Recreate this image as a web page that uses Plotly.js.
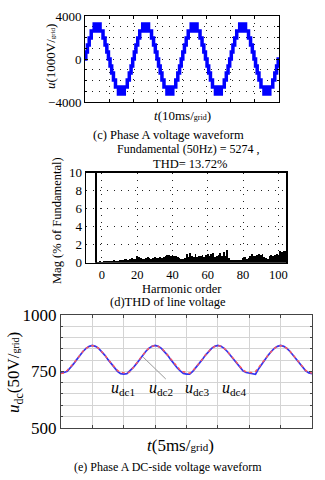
<!DOCTYPE html>
<html><head><meta charset="utf-8">
<script src="https://cdn.plot.ly/plotly-3.0.1.min.js"></script>
<style>html,body{margin:0;padding:0;background:#fff}#c{width:325px;height:480px}</style>
</head><body><div id="c"></div>
<script>
// Panel (c): phase A voltage staircase, time in ms, value in V (step-after points)
const phaseT = [0,0.33,1.0,1.73,2.57,3.8,4.1,4.4,4.7,5.0,5.3,5.6,5.9,6.05,6.2,7.43,8.27,9.0,9.67,10.33,11.0,11.73,12.57,13.8,14.1,14.4,14.7,15.0,15.3,15.6,15.9,16.05,16.2,17.43,18.27,19.0,19.67,
20.33,21.0,21.73,22.57,23.8,24.1,24.4,24.7,25.0,25.3,25.6,25.9,26.05,26.2,27.43,28.27,29.0,29.67,30.33,31.0,31.73,32.57,33.8,34.1,34.4,34.7,35.0,35.3,35.6,35.9,36.05,36.2,37.43,38.27,39.0,39.67,
40.33,41.0,41.73,42.57,43.8,44.1,44.4,44.7,45.0,45.3,45.6,45.9,46.05,46.2,47.43,48.27,49.0,49.67,50.33,51.0,51.73,52.57,53.8,54.1,54.4,54.7,55.0,55.3,55.6,55.9,56.05,56.2,57.43,58.27,59.0,59.67,
60.33,61.0,61.73,62.57,63.8,64.1,64.4,64.7,65.0,65.3,65.6,65.9,66.05,66.2,67.43,68.27,69.0,69.67,70.33,71.0,71.73,72.57,73.8,74.1,74.4,74.7,75.0,75.3,75.6,75.9,76.05,76.2,77.43,78.27,79.0,79.67,80];
const phaseV = [0,650,1300,1950,2600,3250,2600,3250,2600,3250,2600,3250,2600,3250,2600,1950,1300,650,0,-650,-1300,-1950,-2600,-3250,-2600,-3250,-2600,-3250,-2600,-3250,-2600,-3250,-2600,-1950,-1300,-650,0,
650,1300,1950,2600,3250,2600,3250,2600,3250,2600,3250,2600,3250,2600,1950,1300,650,0,-650,-1300,-1950,-2600,-3250,-2600,-3250,-2600,-3250,-2600,-3250,-2600,-3250,-2600,-1950,-1300,-650,0,
650,1300,1950,2600,3250,2600,3250,2600,3250,2600,3250,2600,3250,2600,1950,1300,650,0,-650,-1300,-1950,-2600,-3250,-2600,-3250,-2600,-3250,-2600,-3250,-2600,-3250,-2600,-1950,-1300,-650,0,
650,1300,1950,2600,3250,2600,3250,2600,3250,2600,3250,2600,3250,2600,1950,1300,650,0,-650,-1300,-1950,-2600,-3250,-2600,-3250,-2600,-3250,-2600,-3250,-2600,-3250,-2600,-1950,-1300,-650,0,0];

// Panel (d): harmonic spectrum (% of fundamental)
const fundOrder = [-3.5];
const fundMag = [100];
const harmOrder = [-3,-2,-1,0,1,2,3,4,5,6,7,8,9,10,11,12,13,14,15,16,17,18,19,20,21,22,23,24,25,26,27,28,29,30,31,32,33,34,35,36,37,38,39,40,41,42,43,44,45,46,47,48,49,50,51,52,53,54,55,56,57,58,59,60,61,62,63,64,65,66,67,68,69,70,71,72,73,74,75,76,77,78,79,80,81,82,83,84,85,86,87,88,89,90,91,92,93,94,95,96,97,98,99,100,101,102,103,104];
const harmMag = [0.1,0.1,0.15,0.1,
0.15,0.2,0.2,0.15,0.2,0.2,0.25,0.2,0.15,
0.3,0.35,0.3,0.4,0.45,0.35,0.4,0.5,0.45,0.4,
0.75,0.6,0.5,0.45,0.4,0.55,0.6,0.5,0.45,0.55,
0.6,0.5,0.55,0.65,0.5,0.6,0.7,0.9,0.85,0.8,
0.9,0.75,0.8,0.6,0.5,0.4,0.45,0.5,1.0,0.6,
1.1,0.7,0.6,1.0,0.65,0.8,0.75,0.85,0.6,0.9,
1.0,0.7,0.95,1.05,0.6,0.7,0.9,1.1,0.8,1.2,
0.7,1.4,0.5,0.35,0.3,0.35,0.3,0.35,0.3,0.25,
0.5,0.6,0.45,0.55,0.7,1.0,0.75,0.8,0.9,1.0,
0.85,0.95,0.6,0.5,0.45,0.8,0.9,0.75,0.85,1.0,
0.9,1.3,1.2,1.3,1.35];

// Panel (e): DC-side voltages, time in ms
const dcT = [0,0.5,1,1.5,2,2.5,3,3.5,4,4.5,5,5.5,6,6.5,7,7.5,8,8.5,9,9.5,10,10.5,11,11.5,12,12.5,13,13.5,14,14.5,15,15.5,16,16.5,17,17.5,18,18.5,19,19.5,20,20.5,21,21.5,22,22.5,23,23.5,24,24.5,25,25.5,26,26.5,27,27.5,28,28.5,29,29.5,30,30.5,31,31.5,32,32.5,33,33.5,34,34.5,35,35.5,36,36.5,37,37.5,38,38.5,39,39.5,40];
const udcBlue = [745,745,750,765,783,802,821,838,852,861,865,861,852,838,821,802,783,766,750,740,738,
740,752,766,783,802,821,838,852,861,865,861,852,838,821,802,783,766,752,741,738,
738,750,766,783,802,821,838,852,861,865,861,852,838,821,802,783,766,752,745,742,
738,737,762,783,802,821,838,852,861,865,861,852,838,821,802,783,766,752,743,740];
const udcRed = [740,743,755,768,785,803,822,839,852,861,864,861,852,839,822,803,785,768,754,746,744,
742,748,768,785,803,822,839,852,861,864,861,852,839,822,803,785,769,755,748,744,
742,752,768,785,803,822,839,852,861,864,861,852,839,822,803,785,768,756,748,746,
744,750,766,785,803,822,839,852,861,864,861,852,839,822,803,785,768,754,746,742];

const yTicksC = [-4000,0,4000];
const yTicksE = [500,750,1000];
const dcLabels = ['<i>u</i><sub>dc1</sub>','<i>u</i><sub>dc2</sub>','<i>u</i><sub>dc3</sub>','<i>u</i><sub>dc4</sub>'];
const dcLabelT = [9.9,15.9,21.7,27.7];

const F = 'Liberation Serif, Times New Roman, serif';
const px = v => v/325, py = v => 1 - v/480;

const traces = [
  {x: phaseT, y: phaseV, type:'scatter', mode:'lines', line:{shape:'hv', color:'#0000ff', width:3.5}, xaxis:'x', yaxis:'y', showlegend:false, hoverinfo:'skip'},
  {x: harmOrder, y: harmMag, type:'bar', width:1, marker:{color:'#000', line:{width:0}}, xaxis:'x2', yaxis:'y2', showlegend:false},
  {x: fundOrder, y: fundMag, type:'bar', width:1.1, marker:{color:'#000', line:{width:0}}, xaxis:'x2', yaxis:'y2', showlegend:false},
  {x: dcT, y: udcBlue, type:'scatter', mode:'lines', line:{color:'#3535f0', width:1.7}, xaxis:'x3', yaxis:'y3', showlegend:false},
  {x: dcT, y: udcRed, type:'scatter', mode:'lines', line:{color:'#ff5a5a', width:1.4, dash:'3px,3px'}, xaxis:'x3', yaxis:'y3', showlegend:false}
];

const dotGrid = '1px,6px';
function ann(text, x, y, size, extra) {
  return Object.assign({text:text, x:px(x), y:py(y), xref:'paper', yref:'paper', showarrow:false,
    xanchor:'center', yanchor:'middle', font:{family:F, size:size, color:'#000'}}, extra || {});
}
const annotations = [
  ann('<i>u</i>(1000V/<span style="font-size:7px">grid</span>)', 50, 57, 13, {textangle:-90}),
  ann('<i>t</i>(10ms/<span style="font-size:8px">grid</span>)', 183, 115, 13),
  ann('(c) Phase A voltage waveform', 168, 134.5, 12.5),
  ann('Fundamental (50Hz) = 5274 ,', 188, 149, 12),
  ann('THD= 13.72%', 190, 164, 12.5),
  ann('Mag (% of Fundamental)', 57, 221, 12.5, {textangle:-90}),
  ann('Harmonic order', 182, 289, 12.5),
  ann('(d)THD of line voltage', 168, 302, 12.5),
  ann('<i>u</i><sub>dc</sub>(50V/<span style="font-size:10px">grid</span>)', 15, 373, 17, {textangle:-90}),
  ann('<i>t</i>(5ms/<span style="font-size:11px">grid</span>)', 180, 445, 17),
  ann('(e) Phase A DC-side voltage waveform', 168, 467, 12)
];
dcLabels.forEach((t, i) => annotations.push({text:t, x:dcLabelT[i], y:676, xref:'x3', yref:'y3', showarrow:false,
  xanchor:'center', yanchor:'middle', font:{family:F, size:16, color:'#000'}}));

const layout = {
  width:325, height:480, margin:{l:0,r:0,t:0,b:0}, paper_bgcolor:'#fff', plot_bgcolor:'#fff',
  font:{family:F, color:'#000', size:12}, bargap:0,
  xaxis:{domain:[px(85),px(279)], anchor:'y', range:[0,80], dtick:10, tick0:0, showticklabels:false,
    showgrid:true, gridcolor:'#222', griddash:dotGrid, gridwidth:1, zeroline:false,
    showline:true, linecolor:'#000', linewidth:1, mirror:'ticks', ticks:'inside', ticklen:3, tickcolor:'#000'},
  yaxis:{domain:[py(102),py(16)], anchor:'x', range:[-4000,4000], tickvals:yTicksC,
    tickfont:{family:F, size:13}, showgrid:true, gridcolor:'#222', griddash:dotGrid, zeroline:false,
    minor:{dtick:1000, tick0:0, showgrid:true, gridcolor:'#222', griddash:dotGrid, ticks:'inside', ticklen:2, tickcolor:'#000'},
    showline:true, linecolor:'#000', linewidth:1, mirror:'ticks', ticks:'inside', ticklen:3, tickcolor:'#000'},
  xaxis2:{domain:[px(86),px(286)], anchor:'y2', range:[-9,104.3], tickvals:[0,20,40,60,80,100],
    tickfont:{family:F, size:12.5}, showgrid:true, gridcolor:'#222', griddash:dotGrid, zeroline:false,
    showline:true, linecolor:'#000', linewidth:1.5, mirror:true, ticks:''},
  yaxis2:{domain:[py(262.7),py(172.7)], anchor:'x2', range:[0,10], tickvals:[0,2,4,6,8,10],
    tickfont:{family:F, size:13}, showgrid:true, gridcolor:'#222', griddash:dotGrid, zeroline:false,
    showline:true, linecolor:'#000', linewidth:1.5, mirror:true, ticks:''},
  xaxis3:{domain:[px(61),px(312)], anchor:'y3', range:[0,40], dtick:5, tick0:0, showticklabels:false,
    showgrid:true, gridcolor:'#d4d4d4', gridwidth:1, zeroline:false,
    showline:true, linecolor:'#444', linewidth:1, mirror:'ticks', ticks:'inside', ticklen:3, tickcolor:'#444'},
  yaxis3:{domain:[py(427.7),py(315)], anchor:'x3', range:[500,1000], tickvals:yTicksE,
    tickfont:{family:F, size:17}, showgrid:true, gridcolor:'#d4d4d4', gridwidth:1, zeroline:false,
    minor:{dtick:50, tick0:500, showgrid:true, gridcolor:'#d4d4d4', ticks:'inside', ticklen:2, tickcolor:'#444'},
    showline:true, linecolor:'#444', linewidth:1, mirror:'ticks', ticks:'inside', ticklen:3, tickcolor:'#444'},
  shapes:[
    {type:'line', xref:'x3', yref:'y3', x0:13.1, y0:813, x1:16.7, y1:716, line:{color:'#999', width:1}}
  ],
  annotations: annotations
};
Plotly.newPlot('c', traces, layout, {staticPlot:true, displayModeBar:false});
</script></body></html>
